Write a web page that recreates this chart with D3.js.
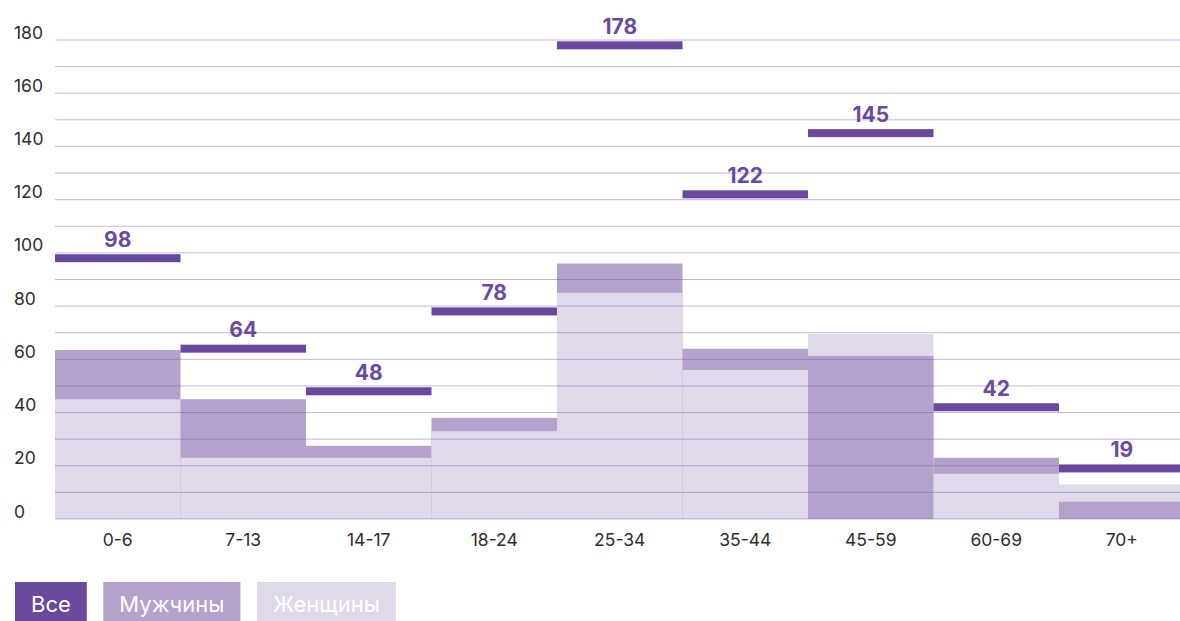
<!DOCTYPE html>
<html>
<head>
<meta charset="utf-8">
<script src="https://cdn.jsdelivr.net/npm/d3@7"></script>
<style>
  html, body { margin: 0; padding: 0; background: #fff; }
  svg { display: block; font-family: Inter, "Noto Sans", sans-serif; }
</style>
</head>
<body>
<svg id="chart" width="1180" height="621"></svg>
<script>
const categories = ["0-6", "7-13", "14-17", "18-24", "25-34", "35-44", "45-59", "60-69", "70+"];
const totalValues = [98, 64, 48, 78, 178, 122, 145, 42, 19];
const menValues = [63.5, 45, 27.5, 38, 96, 64, 61.3, 23, 6.5];
const womenValues = [45, 23, 23, 33, 85, 56, 69.5, 17, 13];
const yTicks = [0, 20, 40, 60, 80, 100, 120, 140, 160, 180];
const gridValues = d3.range(0, 181, 10);
const legendItems = ["Все", "Мужчины", "Женщины"];

const colTotal = "#6a489d";
const colMen = "#b3a3cc";
const colWomen = "#e0d9ea";

const svg = d3.select("#chart");

const x = d3.scaleBand().domain(categories).range([55, 1184.5]).padding(0);
const y = d3.scaleLinear().domain([0, 180]).range([519, 40]);

// bars: taller drawn behind, shorter in front
const barsG = svg.append("g");
categories.forEach((c, i) => {
  const items = [
    { v: menValues[i], color: colMen },
    { v: womenValues[i], color: colWomen }
  ].sort((a, b) => b.v - a.v);
  items.forEach(it => {
    barsG.append("rect")
      .attr("x", x(c))
      .attr("width", x.bandwidth())
      .attr("y", y(it.v))
      .attr("height", y(0) - y(it.v))
      .attr("fill", it.color);
  });
});

// gridlines
svg.append("g")
  .selectAll("line")
  .data(gridValues)
  .join("line")
  .attr("x1", 55)
  .attr("x2", 1180)
  .attr("y1", d => y(d))
  .attr("y2", d => y(d))
  .attr("stroke", "#6b4a9e")
  .attr("stroke-opacity", 0.4)
  .attr("stroke-width", 1);

// y-axis labels
svg.append("g")
  .selectAll("text")
  .data(yTicks)
  .join("text")
  .attr("x", 14)
  .attr("y", d => y(d) - 1.5)
  .attr("fill", "#2e2e2e")
  .attr("font-size", 17.5)
  .text(d => d);

// x-axis labels
svg.append("g")
  .selectAll("text")
  .data(categories)
  .join("text")
  .attr("x", d => x(d) + x.bandwidth() / 2)
  .attr("y", 546)
  .attr("text-anchor", "middle")
  .attr("fill", "#2e2e2e")
  .attr("font-size", 17.5)
  .text(d => d);

// totals as thick horizontal lines
svg.append("g")
  .selectAll("rect")
  .data(categories)
  .join("rect")
  .attr("x", d => x(d))
  .attr("width", x.bandwidth())
  .attr("y", (d, i) => y(totalValues[i]) - 4)
  .attr("height", 8)
  .attr("fill", colTotal);

svg.append("g")
  .selectAll("text")
  .data(categories)
  .join("text")
  .attr("x", d => x(d) + x.bandwidth() / 2)
  .attr("y", (d, i) => y(totalValues[i]) - 11.5)
  .attr("text-anchor", "middle")
  .attr("fill", "#6b4a9e")
  .attr("font-size", 21)
  .attr("font-weight", 700)
  .text((d, i) => totalValues[i]);

// legend
const legendColors = [colTotal, colMen, colWomen];
const lg = svg.append("g");
let lx = 15;
legendItems.forEach((name, i) => {
  const g = lg.append("g");
  const rect = g.append("rect").attr("x", lx).attr("y", 582).attr("height", 39).attr("fill", legendColors[i]);
  const t = g.append("text")
    .attr("x", lx + 16)
    .attr("y", 612)
    .attr("fill", "#ffffff")
    .attr("font-size", 22)
    .text(name);
  const w = t.node().getComputedTextLength();
  rect.attr("width", w + 32);
  lx += w + 32 + 16.5;
});
</script>
</body>
</html>
